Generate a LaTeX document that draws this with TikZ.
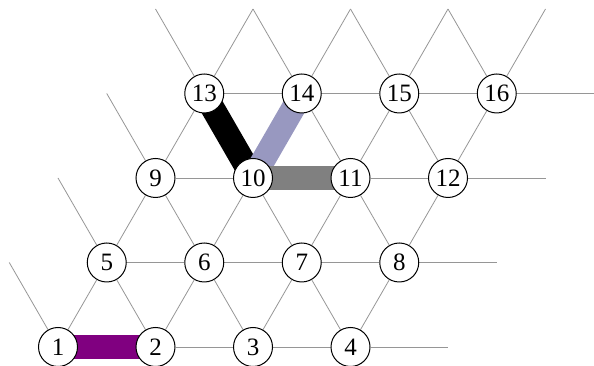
\documentclass[tikz,border=0pt]{standalone}
\usepackage{fontspec}
\setmainfont{Liberation Serif}
\usetikzlibrary{backgrounds}
\definecolor{latt}{RGB}{150,150,150}
\definecolor{lav}{RGB}{152,152,192}
\definecolor{purp}{RGB}{128,0,128}
\definecolor{midgray}{RGB}{128,128,128}
\newcommand\settarget[2]{%
  \pgfmathtruncatemacro\inrange{and(and(#1>=0,#1<=3),and(#2>=0,#2<=3))}%
  \ifnum\inrange=1 \pgfmathtruncatemacro\tn{1+#1+4*#2}\xdef\T{n\tn}\else\xdef\T{e#1-#2}\fi}
\begin{document}
\begin{tikzpicture}[x=1pt,y=1pt,
  vertex/.style={circle,draw=black,line width=1pt,fill=white,minimum size=39pt,inner sep=0pt,font=\fontsize{25}{25}\selectfont},
  lattedge/.style={draw=latt,line width=0.8pt},
  hl/.style={line width=24pt}]
\useasboundingbox (0,0) rectangle (594,366);
% nodes
\foreach \r in {0,...,3}{
  \foreach \c in {0,...,3}{
    \pgfmathtruncatemacro\n{1+\c+4*\r}
    \node[vertex] (n\n) at ({58+97.5*\c+48.75*\r},{19+84.5*\r}) {\n};
  }
}
% free ends
\foreach \c in {-1,...,4}{
  \foreach \r in {0,...,4}{
    \coordinate (e\c-\r) at ({58+97.5*\c+48.75*\r},{19+84.5*\r});
  }
}
\begin{pgfonlayer}{background}
\foreach \r in {0,...,3}{
  \foreach \c in {0,...,3}{
    \pgfmathtruncatemacro\n{1+\c+4*\r}
    \pgfmathtruncatemacro\cp{\c+1}
    \pgfmathtruncatemacro\cm{\c-1}
    \pgfmathtruncatemacro\rp{\r+1}
    \settarget{\cp}{\r}\draw[lattedge] (n\n) -- (\T);
    \settarget{\c}{\rp}\draw[lattedge] (n\n) -- (\T);
    \settarget{\cm}{\rp}\draw[lattedge] (n\n) -- (\T);
  }
}
\draw[hl,purp] (n1.center) -- (n2.center);
\draw[hl,black] (n13.center) -- (n10.center);
\draw[hl,lav] (n10.center) -- (n14.center);
\draw[hl,midgray] (n10.center) -- (n11.center);
\end{pgfonlayer}
\end{tikzpicture}
\end{document}
